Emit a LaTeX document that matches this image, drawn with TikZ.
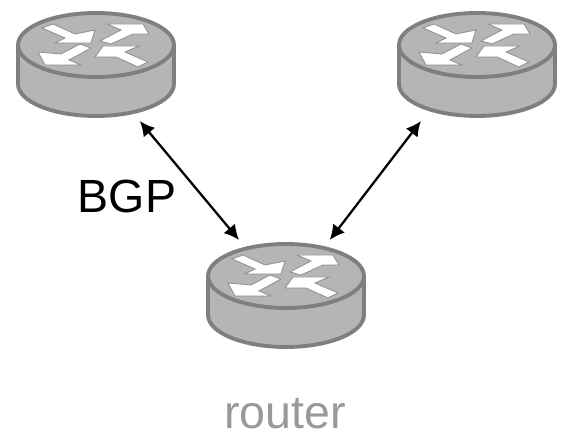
\documentclass[tikz,border=0pt]{standalone}
\usepackage{fontspec}
\setmainfont{Liberation Sans}
\usetikzlibrary{arrows.meta}
\definecolor{routerfill}{HTML}{B5B5B5}
\definecolor{routeredge}{HTML}{7F7F7F}
\definecolor{routerlabel}{HTML}{999999}

\begin{document}
\begin{tikzpicture}
    [
    x=0.02cm,y=-0.02cm,
    routerbox/.style={inner sep=0pt,outer sep=2pt,minimum width=3.2cm,minimum height=2.1cm},
    routerbody/.style={fill=routerfill,draw=routeredge,line width=2.2pt},
    routerarrow/.style={fill=white,draw=routeredge!85,line width=0.5pt,line join=miter},
    peering/.style={{Latex[length=8.5pt,width=8.5pt]}-{Latex[length=8.5pt,width=8.5pt]},line width=1.3pt},
    biglabel/.style={font=\fontsize{26.5}{30}\selectfont},
    router/.pic={
        \draw [routerbody] (-78,-20) -- (-78,19) arc [start angle=180,end angle=360,x radius=1.56cm,y radius=0.64cm] -- (78,-20);
        \draw [routerbody] (0,-20) ellipse [x radius=1.56cm,y radius=0.64cm];
        \draw [routerarrow] (-54,-37) -- (-43,-41) -- (-21,-31) -- (-1,-35) -- (-5,-22) -- (-41,-22) -- (-31,-27) -- cycle;
        \draw [routerarrow] (4,-24) -- (15,-21) -- (37,-31) -- (53,-31) -- (47,-41) -- (11,-41) -- (25,-35) -- cycle;
        \draw [routerarrow] (-5,-17) -- (-16,-21) -- (-35,-11) -- (-58,-13) -- (-51,0) -- (-15,0) -- (-27,-5) -- cycle;
        \draw [routerarrow] (-1,-8) -- (7,-19) -- (43,-19) -- (29,-13) -- (52,-3) -- (42,2) -- (20,-8) -- cycle;
    },
    ]
    \useasboundingbox (0,0) rectangle (566,448);

    \node (r1) at (96,65) [routerbox] {};
    \node (r2) at (477,65) [routerbox] {};
    \node (r3) at (286,296) [routerbox] {};
    \pic at (r1) {router};
    \pic at (r2) {router};
    \pic at (r3) {router};

    \draw [peering] (r1.-52) to (r3.130);
    \draw [peering] (r2.-135) to (r3.52);

    \node (bgp) at (127,196) [biglabel] {BGP};
    \node (name) at (285,414) [biglabel,text=routerlabel] {router};
\end{tikzpicture}
\end{document}
